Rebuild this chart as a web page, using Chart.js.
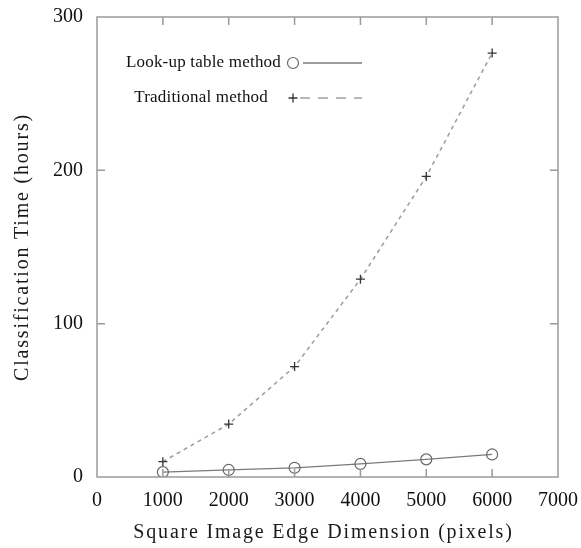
<!DOCTYPE html>
<html>
<head>
<meta charset="utf-8">
<script src="https://cdn.jsdelivr.net/npm/chart.js@4"></script>
<style>
  html, body { margin: 0; padding: 0; background: #fff; }
  #wrap { width: 581px; height: 548px; }
</style>
</head>
<body>
<div id="wrap"><canvas id="chart" width="581" height="548"></canvas></div>
<script>
// values
const edgeSizes = [1000, 2000, 3000, 4000, 5000, 6000];
const lookupHours = [3.2, 4.6, 6, 8.5, 11.5, 14.7];
const traditionalHours = [10, 34.5, 72, 129, 196, 276.5];
const xTicks = [0, 1000, 2000, 3000, 4000, 5000, 6000, 7000];
const yTicks = [0, 100, 200, 300];
const xTitle = 'Square Image Edge Dimension (pixels)';
const yTitle = 'Classification Time (hours)';

const serif = "'Liberation Serif', 'DejaVu Serif', serif";

function toPoints(xs, ys) {
  return xs.map((x, i) => ({ x: x, y: ys[i] }));
}

// box around the plot with short inward ticks on every side
const frameTicks = {
  id: 'frameTicks',
  afterDatasetsDraw(chart) {
    const { ctx, chartArea: a, scales } = chart;
    const len = 8;
    ctx.save();
    ctx.strokeStyle = '#9a9a9a';
    ctx.lineWidth = 1.5;
    ctx.strokeRect(a.left, a.top, a.right - a.left, a.bottom - a.top);
    ctx.beginPath();
    scales.x.ticks.forEach(t => {
      if (t.value <= scales.x.min || t.value >= scales.x.max) return;
      const px = scales.x.getPixelForValue(t.value);
      ctx.moveTo(px, a.bottom); ctx.lineTo(px, a.bottom - len);
      ctx.moveTo(px, a.top); ctx.lineTo(px, a.top + len);
    });
    scales.y.ticks.forEach(t => {
      if (t.value <= scales.y.min || t.value >= scales.y.max) return;
      const py = scales.y.getPixelForValue(t.value);
      ctx.moveTo(a.left, py); ctx.lineTo(a.left + len, py);
      ctx.moveTo(a.right, py); ctx.lineTo(a.right - len, py);
    });
    ctx.stroke();
    ctx.restore();
  }
};

// spaced-out axis titles
const axisTitles = {
  id: 'axisTitles',
  afterDraw(chart) {
    const { ctx, chartArea: a } = chart;
    ctx.save();
    ctx.fillStyle = '#1a1a1a';
    ctx.font = '20px ' + serif;
    ctx.letterSpacing = '1.8px';
    ctx.textAlign = 'center';
    ctx.textBaseline = 'middle';
    ctx.fillText(xTitle, (a.left + a.right) / 2 - 4, 533);
    ctx.translate(23, (a.top + a.bottom) / 2);
    ctx.rotate(-Math.PI / 2);
    ctx.fillText(yTitle, 0, 0);
    ctx.restore();
  }
};

// legend inside the plot: label, marker, line sample
const insideLegend = {
  id: 'insideLegend',
  afterDraw(chart) {
    const { ctx, chartArea: a } = chart;
    const rowsY = [a.top + 46, a.top + 81];
    const gaps = [12, 25];
    const markX = 293;
    ctx.save();
    ctx.font = '17px ' + serif;
    ctx.letterSpacing = '0.2px';
    ctx.textBaseline = 'middle';
    ctx.textAlign = 'right';
    chart.data.datasets.forEach((ds, i) => {
      const y = rowsY[i];
      ctx.fillStyle = '#111';
      ctx.fillText(ds.label, markX - gaps[i], y);
      ctx.strokeStyle = ds.pointBorderColor;
      ctx.lineWidth = ds.pointBorderWidth;
      ctx.setLineDash([]);
      ctx.beginPath();
      if (ds.pointStyle === 'circle') {
        ctx.arc(markX, y, ds.pointRadius, 0, Math.PI * 2);
      } else {
        ctx.moveTo(markX - ds.pointRadius, y); ctx.lineTo(markX + ds.pointRadius, y);
        ctx.moveTo(markX, y - ds.pointRadius); ctx.lineTo(markX, y + ds.pointRadius);
      }
      ctx.stroke();
      ctx.strokeStyle = ds.borderColor;
      ctx.lineWidth = 1.3;
      ctx.setLineDash(i === 0 ? [] : [10, 8]);
      ctx.beginPath();
      ctx.moveTo(i === 0 ? 303 : 300, y);
      ctx.lineTo(362, y);
      ctx.stroke();
    });
    ctx.restore();
  }
};

const ctx = document.getElementById('chart').getContext('2d');
const chart = new Chart(ctx, {
  type: 'scatter',
  data: {
    datasets: [
      {
        label: 'Look-up table method',
        data: toPoints(edgeSizes, lookupHours),
        showLine: true,
        borderColor: '#7a7a7a',
        borderWidth: 1.3,
        pointStyle: 'circle',
        pointRadius: 5.5,
        pointBorderColor: '#666',
        pointBorderWidth: 1.2,
        pointBackgroundColor: 'rgba(0,0,0,0)'
      },
      {
        label: 'Traditional method',
        data: toPoints(edgeSizes, traditionalHours),
        showLine: true,
        borderColor: '#a0a0a0',
        borderWidth: 1.6,
        borderDash: [4, 4],
        pointStyle: 'cross',
        pointRadius: 4.5,
        pointBorderColor: '#333',
        pointBorderWidth: 1.3,
        pointBackgroundColor: '#333'
      }
    ]
  },
  options: {
    responsive: false,
    animation: false,
    layout: { padding: { left: 0, top: 17, right: 23, bottom: 0 } },
    plugins: {
      legend: { display: false },
      tooltip: { enabled: false }
    },
    scales: {
      x: {
        type: 'linear',
        min: 0,
        max: 7000,
        afterBuildTicks: s => { s.ticks = xTicks.map(v => ({ value: v })); },
        afterFit: s => { s.height = 71; s.paddingLeft = 0; s.paddingRight = 0; },
        grid: { display: false, drawTicks: false },
        border: { display: false },
        ticks: {
          padding: 12,
          color: '#111',
          font: { family: serif, size: 20 },
          maxRotation: 0,
          callback: v => String(v)
        }
      },
      y: {
        type: 'linear',
        min: 0,
        max: 300,
        afterBuildTicks: s => { s.ticks = yTicks.map(v => ({ value: v })); },
        afterFit: s => { s.width = 97; s.paddingTop = 0; s.paddingBottom = 0; },
        grid: { display: false, drawTicks: false },
        border: { display: false },
        ticks: {
          padding: 14,
          color: '#111',
          font: { family: serif, size: 20 },
          callback: v => String(v)
        }
      }
    }
  },
  plugins: [frameTicks, axisTitles, insideLegend]
});
</script>
</body>
</html>
